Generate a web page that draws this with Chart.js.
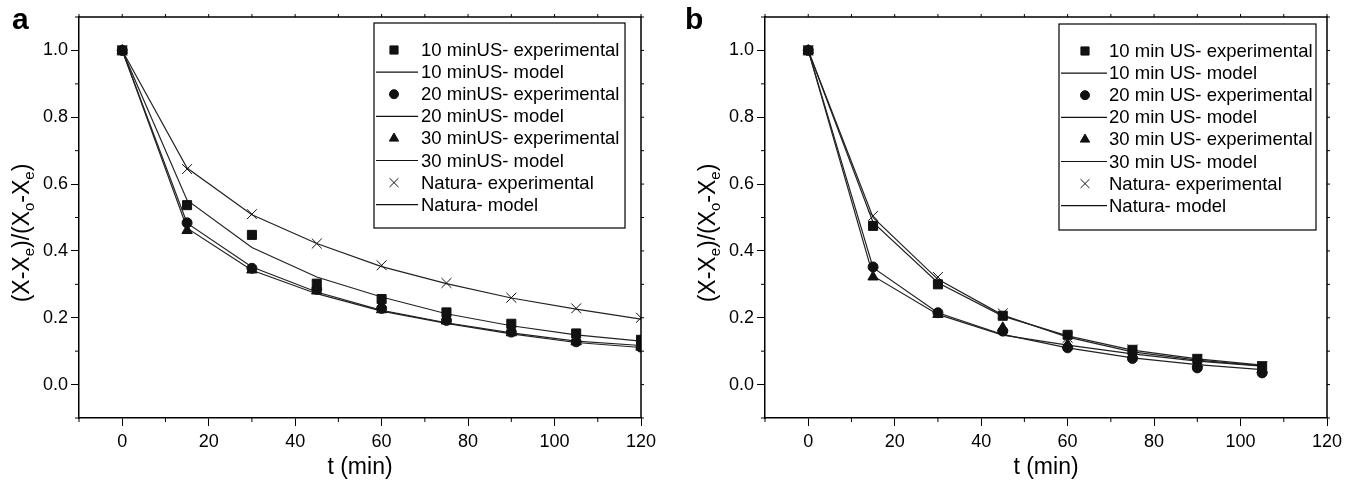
<!DOCTYPE html>
<html>
<head>
<meta charset="utf-8">
<script src="https://cdn.jsdelivr.net/npm/chart.js"></script>
<style>
html, body { margin: 0; padding: 0; background: #fff; }
#wrap { position: relative; width: 1363px; height: 484px; }
canvas { position: absolute; top: 0; }
#ca { left: 0; }
#cb { left: 682px; }
</style>
</head>
<body>
<div id="wrap">
<canvas id="ca" width="682" height="484"></canvas>
<canvas id="cb" width="681" height="484"></canvas>
</div>
<script>
const FONT = "'Liberation Sans', Arial, sans-serif";

// sampling times (min)
const tA = [0, 15, 30, 45, 60, 75, 90, 105, 120];
const tB = [0, 15, 30, 45, 60, 75, 90, 105];

// panel a : (X-Xe)/(Xo-Xe)
const a10Exp = [1, 0.537, 0.448, 0.302, 0.256, 0.216, 0.182, 0.153, 0.134];
const a10Mod = [1, 0.552, 0.410, 0.322, 0.262, 0.212, 0.176, 0.149, 0.130];
const a20Exp = [1, 0.484, 0.348, 0.285, 0.228, 0.192, 0.157, 0.128, 0.112];
const a20Mod = [1, 0.483, 0.352, 0.277, 0.222, 0.185, 0.155, 0.130, 0.117];
const a30Exp = [1, 0.461, 0.343, 0.280, 0.224, 0.190, 0.155, 0.128, 0.112];
const a30Mod = [1, 0.468, 0.342, 0.272, 0.220, 0.183, 0.152, 0.126, 0.111];
const aNatExp = [1, 0.645, 0.510, 0.422, 0.357, 0.304, 0.260, 0.228, 0.200];
const aNatMod = [1, 0.648, 0.508, 0.422, 0.353, 0.302, 0.259, 0.226, 0.196];

// panel b
const b10Exp = [1, 0.475, 0.300, 0.206, 0.149, 0.104, 0.077, 0.055];
const b10Mod = [1, 0.485, 0.305, 0.205, 0.146, 0.103, 0.077, 0.058];
const b20Exp = [1, 0.352, 0.215, 0.160, 0.110, 0.078, 0.050, 0.035];
const b20Mod = [1, 0.350, 0.215, 0.150, 0.110, 0.080, 0.060, 0.045];
const b30Exp = [1, 0.322, 0.210, 0.170, 0.120, 0.090, 0.062, 0.045];
const b30Mod = [1, 0.325, 0.210, 0.148, 0.118, 0.092, 0.070, 0.055];
const bNatExp = [1, 0.505, 0.322, 0.213, 0.140, 0.105, 0.075, 0.055];
const bNatMod = [1, 0.500, 0.315, 0.208, 0.142, 0.098, 0.073, 0.056];

const labelsA = ['10 minUS- experimental', '10 minUS- model', '20 minUS- experimental', '20 minUS- model',
  '30 minUS- experimental', '30 minUS- model', 'Natura- experimental', 'Natura- model'];
const labelsB = ['10 min US- experimental', '10 min US- model', '20 min US- experimental', '20 min US- model',
  '30 min US- experimental', '30 min US- model', 'Natura- experimental', 'Natura- model'];

const xRange = [-10, 120];
const yRange = [-0.1, 1.1];
const xTickValues = [0, 20, 40, 60, 80, 100, 120];
const yTickValues = [0, 0.2, 0.4, 0.6, 0.8, 1.0];
const xTitle = 't (min)';
const yTitleParts = [['(X-X', 0], ['e', 1], [')/(X', 0], ['o', 1], ['-X', 0], ['e', 1], [')', 0]];

// marker per experimental series, null = model line
const markers = [['rect', 6.4], null, ['circle', 5], null, ['triangle', 6], null, ['crossRot', 7], null];

function buildDatasets(t, series, labels) {
  return series.map((vals, i) => {
    const m = markers[i];
    const pts = t.map((tt, k) => ({x: tt, y: vals[k]}));
    if (m) {
      return {label: labels[i], data: pts, showLine: false, pointStyle: m[0], pointRadius: m[1],
        backgroundColor: '#111', borderColor: '#111', pointBorderWidth: 1};
    }
    return {label: labels[i], data: pts, showLine: true, pointRadius: 0, borderColor: '#222',
      borderWidth: 1.2, tension: 0, fill: false};
  });
}

function minorValues(scale) {
  const v = scale.ticks.map(t => t.value);
  const out = [];
  const step = v[1] - v[0];
  if (v[0] - step / 2 >= scale.min - 1e-9) out.push(v[0] - step / 2);
  for (let i = 0; i < v.length - 1; i++) out.push((v[i] + v[i + 1]) / 2);
  if (v[v.length - 1] + step / 2 <= scale.max + 1e-9) out.push(v[v.length - 1] + step / 2);
  return out;
}

function drawMarker(ctx, style, radius, x, y) {
  if (Chart.helpers && Chart.helpers.drawPoint) {
    Chart.helpers.drawPoint(ctx, {pointStyle: style, radius: radius, rotation: 0, borderWidth: 1}, x, y);
  } else {
    ctx.beginPath(); ctx.arc(x, y, radius, 0, Math.PI * 2); ctx.fill();
  }
}

const framePlugin = {
  id: 'frame',
  afterDraw(chart, args, o) {
    const {ctx, chartArea: a, scales: {x, y}} = chart;
    ctx.save();
    ctx.strokeStyle = '#000';
    ctx.lineWidth = 1.5;
    ctx.beginPath();
    ctx.moveTo(a.left, a.top); ctx.lineTo(a.right, a.top); ctx.lineTo(a.right, a.bottom);
    ctx.stroke();

    // minor ticks outside bottom / left, short mirror ticks top / right
    ctx.lineWidth = 1;
    ctx.beginPath();
    const xs = x.ticks.map(t => t.value).concat(minorValues(x));
    const ys = y.ticks.map(t => t.value).concat(minorValues(y));
    minorValues(x).forEach(v => { const px = x.getPixelForValue(v); ctx.moveTo(px, a.bottom); ctx.lineTo(px, a.bottom + 4); });
    minorValues(y).forEach(v => { const py = y.getPixelForValue(v); ctx.moveTo(a.left, py); ctx.lineTo(a.left - 4, py); });
    xs.forEach(v => { const px = x.getPixelForValue(v); ctx.moveTo(px, a.top); ctx.lineTo(px, a.top - 3); });
    ys.forEach(v => { const py = y.getPixelForValue(v); ctx.moveTo(a.right, py); ctx.lineTo(a.right + 3, py); });
    ctx.stroke();

    // y title with subscripts
    ctx.fillStyle = '#000';
    ctx.save();
    ctx.translate(o.titleX, o.titleY);
    ctx.rotate(-Math.PI / 2);
    const big = '23px ' + FONT, small = '15px ' + FONT;
    let w = 0;
    yTitleParts.forEach(([s, sub]) => { ctx.font = sub ? small : big; w += ctx.measureText(s).width; });
    let cx = -w / 2;
    ctx.textBaseline = 'alphabetic';
    yTitleParts.forEach(([s, sub]) => {
      ctx.font = sub ? small : big;
      ctx.fillText(s, cx, 8 + (sub ? 5 : 0));
      cx += ctx.measureText(s).width;
    });
    ctx.restore();

    // panel letter
    ctx.font = 'bold 30px ' + FONT;
    ctx.textBaseline = 'alphabetic';
    ctx.fillText(o.letter, o.letterX, 29);

    // legend
    const L = o.legend;
    ctx.lineWidth = 1.2;
    ctx.strokeRect(L.left, L.top, L.right - L.left, L.bottom - L.top);
    ctx.font = '18.5px ' + FONT;
    ctx.textBaseline = 'middle';
    chart.data.datasets.forEach((ds, i) => {
      const ry = L.row0 + i * L.gap;
      ctx.fillStyle = '#111';
      ctx.strokeStyle = '#111';
      if (ds.showLine) {
        ctx.lineWidth = 1.2;
        ctx.beginPath(); ctx.moveTo(L.line0, ry); ctx.lineTo(L.line1, ry); ctx.stroke();
      } else {
        ctx.lineWidth = 1;
        drawMarker(ctx, ds.pointStyle, ds.pointRadius * 0.9, L.markX, ry);
      }
      ctx.fillStyle = '#000';
      ctx.fillText(ds.label, L.textX, ry + 1);
    });
    ctx.restore();
  }
};

function makeChart(id, t, series, labels, cfg) {
  return new Chart(document.getElementById(id), {
    type: 'scatter',
    data: {datasets: buildDatasets(t, series, labels)},
    plugins: [framePlugin],
    options: {
      responsive: false,
      animation: false,
      events: [],
      layout: {padding: {top: 17, right: cfg.rightPad, left: 0, bottom: 0}},
      plugins: {legend: {display: false}, tooltip: {enabled: false}, frame: cfg.frame},
      scales: {
        x: {
          type: 'linear', position: 'bottom', min: xRange[0], max: xRange[1],
          afterFit(s) { s.height = 66; },
          afterBuildTicks(s) { s.ticks = xTickValues.map(v => ({value: v})); },
          ticks: {maxRotation: 0, autoSkip: false, color: '#000', padding: 5,
            font: {family: FONT, size: 18}},
          grid: {drawOnChartArea: false, tickLength: 8, color: '#000', lineWidth: 1},
          border: {display: true, color: '#000', width: 1.5},
          title: {display: true, text: xTitle, color: '#000', font: {family: FONT, size: 23},
            padding: {top: 0, bottom: 3}}
        },
        y: {
          type: 'linear', position: 'left', min: yRange[0], max: yRange[1],
          afterFit(s) { s.width = cfg.yWidth; },
          afterBuildTicks(s) { s.ticks = yTickValues.map(v => ({value: v})); },
          ticks: {autoSkip: false, color: '#000', padding: 3,
            font: {family: FONT, size: 18}, callback: v => v.toFixed(1)},
          grid: {drawOnChartArea: false, tickLength: 8, color: '#000', lineWidth: 1},
          border: {display: true, color: '#000', width: 1.5}
        }
      }
    }
  });
}

makeChart('ca', tA, [a10Exp, a10Mod, a20Exp, a20Mod, a30Exp, a30Mod, aNatExp, aNatMod], labelsA, {
  rightPad: 41, yWidth: 79,
  frame: {letter: 'a', letterX: 12, titleX: 21, titleY: 233,
    legend: {left: 374, top: 23, right: 625, bottom: 228, row0: 50, gap: 22.1,
      markX: 394, line0: 376, line1: 418, textX: 421}}
});

makeChart('cb', tB, [b10Exp, b10Mod, b20Exp, b20Mod, b30Exp, b30Mod, bNatExp, bNatMod], labelsB, {
  rightPad: 36, yWidth: 83,
  frame: {letter: 'b', letterX: 3, titleX: 25, titleY: 233,
    legend: {left: 377, top: 24, right: 634, bottom: 230, row0: 51, gap: 22.1,
      markX: 403, line0: 379, line1: 425, textX: 427}}
});
</script>
</body>
</html>
